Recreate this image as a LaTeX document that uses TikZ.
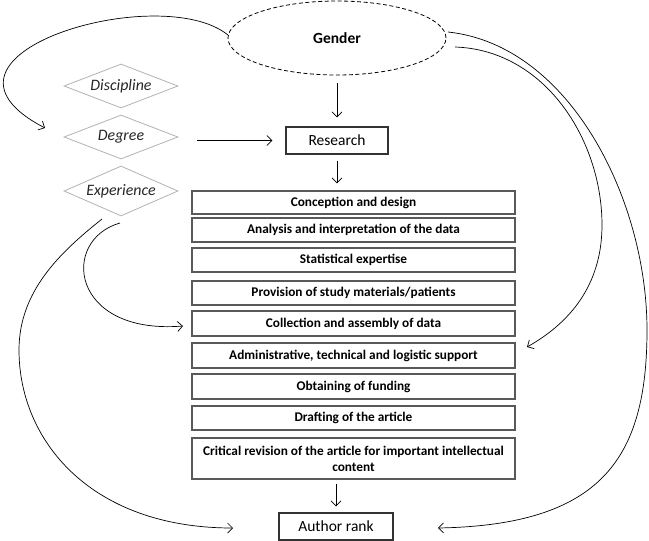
\documentclass[tikz,border=0pt]{standalone}
\usepackage{fontspec}
\setmainfont{Carlito}
\usetikzlibrary{shapes.geometric,arrows.meta,calc}
\begin{document}
\begin{tikzpicture}[x=1pt,y=-1pt,
  conn/.style={line width=0.7pt, -{Straight Barb[length=5pt,width=10pt]}},
  tbox/.style={draw=black!65, line width=1.1pt, fill=white, minimum width=323pt,
    inner sep=0pt, font=\bfseries\fontsize{13.3}{16}\selectfont, align=center},
  mainbox/.style={draw=black!80, line width=1.1pt, fill=white, inner sep=0pt,
    minimum height=27pt, font=\fontsize{15.5}{17}\selectfont},
  dia/.style={diamond, draw=black!30, line width=0.8pt, aspect=2.6, inner sep=0pt,
    minimum width=114pt, minimum height=44pt, text=black!85,
    font=\itshape\fontsize{15.9}{17}\selectfont},
  gend/.style={ellipse, draw, dashed, dash pattern=on 4pt off 2.5pt, line width=0.8pt,
    inner sep=0pt, minimum width=218pt, minimum height=74pt,
    font=\bfseries\fontsize{15.5}{17}\selectfont}
]
\useasboundingbox (0,0) rectangle (649,541);

% ellipse
\node[gend] (g) at (337,38) {Gender};

% diamonds
\node[dia] (disc) at (121,86) {Discipline};
\node[dia] (deg) at (121,137) {Degree};
\node[dia, minimum height=50pt] (exp) at (121,191) {Experience};

% main boxes
\node[mainbox, minimum width=102pt] (res) at (337,140.5) {Research};
\node[mainbox, minimum width=114pt] (ar) at (336,526.5) {Author rank};

% contribution boxes
\node[tbox, minimum height=23pt] (c1) at (353.5,202.5) {Conception and design};
\node[tbox, minimum height=24pt] (c2) at (353.5,230) {Analysis and interpretation of the data};
\node[tbox, minimum height=24pt] (c3) at (353.5,260) {Statistical expertise};
\node[tbox, minimum height=24pt] (c4) at (353.5,293) {Provision of study materials/patients};
\node[tbox, minimum height=25pt] (c5) at (353.5,323.5) {Collection and assembly of data};
\node[tbox, minimum height=25pt] (c6) at (353.5,355.5) {Administrative, technical and logistic support};
\node[tbox, minimum height=25pt] (c7) at (353.5,386.5) {Obtaining of funding};
\node[tbox, minimum height=24pt] (c8) at (353.5,418) {Drafting of the article};
\node[tbox, minimum height=41pt] (c9) at (353.5,458.5)
  {Critical revision of the article for important intellectual\\content};

% free ends of curved connectors
\coordinate (gl) at (228,35);
\coordinate (la) at (45,128);
\coordinate (go) at (448,32);
\coordinate (ra) at (438,528);
\coordinate (gi) at (455,47);
\coordinate (ri) at (527,347);
\coordinate (eo) at (102,219);
\coordinate (la2) at (233,528);
\coordinate (ei) at (120,223);
\coordinate (ci) at (183,326);

% straight connectors
\draw[conn, shorten <=8pt, shorten >=9pt] (g.south) -- (res.north);
\draw[conn, shorten <=6pt, shorten >=7pt] (res.south) -- (res.south |- c1.north);
\draw[conn, shorten <=19pt, shorten >=13pt] (res.west -| deg.east) -- (res.west);
\draw[conn, shorten <=4pt, shorten >=6pt] (ar.north |- c9.south) -- (ar.north);

% curved connectors
\draw[conn] (gl) .. controls (160,-20) and (-95,55) .. (la);
\draw[conn] (go) .. controls (570,45) and (647,200) .. (647,330)
  .. controls (647,460) and (600,525) .. (ra);
\draw[conn] (gi) .. controls (545,50) and (602,140) .. (602,225)
  .. controls (602,280) and (575,320) .. (ri);
\draw[conn] (eo) .. controls (62,251) and (19,290) .. (19,350)
  .. controls (19,440) and (90,528) .. (la2);
\draw[conn] (ei) .. controls (60,240) and (70,335) .. (ci);
\end{tikzpicture}
\end{document}
